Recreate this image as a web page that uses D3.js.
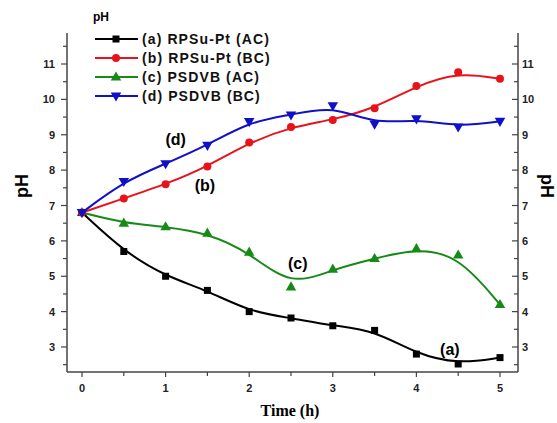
<!DOCTYPE html>
<html>
<head>
<meta charset="utf-8">
<script src="https://cdn.jsdelivr.net/npm/d3@7"></script>
<style>
  body { margin: 0; background: #fff; }
  text { font-family: Arial, "Liberation Sans", sans-serif; }
</style>
</head>
<body>
<svg id="chart" width="557" height="423"></svg>
<script>
// time points (h)
var hours = [0, 0.5, 1, 1.5, 2, 2.5, 3, 3.5, 4, 4.5, 5];

// pH values
var phA = [6.8, 5.7, 5.0, 4.6, 4.0, 3.82, 3.6, 3.47, 2.8, 2.52, 2.7];
var phB = [6.8, 7.2, 7.6, 8.1, 8.78, 9.22, 9.42, 9.75, 10.38, 10.77, 10.58];
var phC = [6.8, 6.5, 6.4, 6.22, 5.68, 4.7, 5.2, 5.5, 5.78, 5.6, 4.2];
var phD = [6.8, 7.68, 8.18, 8.7, 9.37, 9.56, 9.82, 9.3, 9.45, 9.22, 9.38];

var seriesNames = ["(a) RPSu-Pt (AC)", "(b) RPSu-Pt (BC)", "(c) PSDVB (AC)", "(d) PSDVB (BC)"];
var seriesColors = ["#000000", "#e8131a", "#168a16", "#1010c8"];
var seriesMarkers = ["square", "circle", "triangle", "down"];

var xTicks = [0, 1, 2, 3, 4, 5];
var yTicks = [3, 4, 5, 6, 7, 8, 9, 10, 11];

var svg = d3.select("#chart");

var x = d3.scaleLinear().domain([0, 5]).range([82, 500]);
var y = d3.scaleLinear().domain([3, 11]).range([347, 64]);
var yBottom = 372, yTop = 33, xLeft = 67, xRight = 518;

var axisColor = "#444";

// left axis
var left = svg.append("g").attr("transform", "translate(" + xLeft + ",0)");
left.append("line").attr("y1", yTop).attr("y2", yBottom).attr("stroke", axisColor).attr("stroke-width", 1.5);
var minorY = d3.range(2.5, 11.6, 0.5);
left.selectAll(".mt").data(minorY).enter().append("line")
  .attr("x1", 0).attr("x2", function(d){ return d % 1 === 0 ? -6 : -4; })
  .attr("y1", function(d){ return y(d); }).attr("y2", function(d){ return y(d); })
  .attr("stroke", axisColor).attr("stroke-width", 1.2);
left.selectAll(".lb").data(yTicks).enter().append("text")
  .attr("x", -12).attr("y", function(d){ return y(d) + 4; })
  .attr("text-anchor", "end").attr("font-size", 11).attr("font-weight", "bold").attr("fill", "#222")
  .text(function(d){ return d; });

// right axis (ticks point inward)
var right = svg.append("g").attr("transform", "translate(" + xRight + ",0)");
right.append("line").attr("y1", yTop).attr("y2", yBottom).attr("stroke", axisColor).attr("stroke-width", 1.5);
right.selectAll(".mt").data(minorY).enter().append("line")
  .attr("x1", 0).attr("x2", function(d){ return d % 1 === 0 ? -6 : -4; })
  .attr("y1", function(d){ return y(d); }).attr("y2", function(d){ return y(d); })
  .attr("stroke", axisColor).attr("stroke-width", 1.2);
right.selectAll(".lb").data(yTicks).enter().append("text")
  .attr("x", 4).attr("y", function(d){ return y(d) + 4; })
  .attr("font-size", 11).attr("font-weight", "bold").attr("fill", "#222")
  .text(function(d){ return d; });

// bottom axis
var bottom = svg.append("g").attr("transform", "translate(0," + yBottom + ")");
bottom.append("line").attr("x1", xLeft).attr("x2", xRight).attr("stroke", axisColor).attr("stroke-width", 1.5);
bottom.selectAll(".mt").data(hours).enter().append("line")
  .attr("x1", function(d){ return x(d); }).attr("x2", function(d){ return x(d); })
  .attr("y1", 0).attr("y2", function(d){ return d % 1 === 0 ? 5 : 4; })
  .attr("stroke", axisColor).attr("stroke-width", 1.2);
bottom.selectAll(".lb").data(xTicks).enter().append("text")
  .attr("x", function(d){ return x(d); }).attr("y", 20)
  .attr("text-anchor", "middle").attr("font-size", 11).attr("font-weight", "bold").attr("fill", "#222")
  .text(function(d){ return d; });

// axis titles
svg.append("text").attr("transform", "translate(28,186) rotate(-90)")
  .attr("text-anchor", "middle").attr("font-size", 18).attr("font-weight", "bold").text("pH");
svg.append("text").attr("transform", "translate(541,186) rotate(90)")
  .attr("text-anchor", "middle").attr("font-size", 18).attr("font-weight", "bold").text("pH");
svg.append("text").attr("x", 290).attr("y", 416)
  .attr("text-anchor", "middle").attr("font-size", 16).attr("font-weight", "bold")
  .style("font-family", "'Liberation Serif', 'Times New Roman', serif").text("Time (h)");

// markers
function marker(g, type, color, cx, cy) {
  if (type === "square") {
    g.append("rect").attr("x", cx - 3.5).attr("y", cy - 3.5).attr("width", 7).attr("height", 7).attr("fill", color);
  } else if (type === "circle") {
    g.append("circle").attr("cx", cx).attr("cy", cy).attr("r", 4).attr("fill", color);
  } else if (type === "triangle") {
    g.append("path").attr("d", d3.symbol().type(d3.symbolTriangle).size(48)()).attr("transform", "translate(" + cx + "," + (cy + 0.5) + ")").attr("fill", color);
  } else {
    g.append("path").attr("d", d3.symbol().type(d3.symbolTriangle).size(48)()).attr("transform", "translate(" + cx + "," + (cy - 0.5) + ") rotate(180)").attr("fill", color);
  }
}

var allSeries = [phA, phB, phC, phD];
var line = d3.line().curve(d3.curveBasis)
  .x(function(d, i){ return x(hours[i]); })
  .y(function(d){ return y(d); });

// draw in order c, a, b, d so blue ends on top at the origin
[2, 0, 1, 3].forEach(function(k){
  var g = svg.append("g");
  g.append("path").attr("d", line(allSeries[k])).attr("fill", "none")
    .attr("stroke", seriesColors[k]).attr("stroke-width", 2);
  allSeries[k].forEach(function(v, i){
    marker(g, seriesMarkers[k], seriesColors[k], x(hours[i]), y(v));
  });
});

// legend
svg.append("text").attr("x", 93).attr("y", 21).attr("font-size", 12).attr("font-weight", "bold").text("pH");
seriesNames.forEach(function(name, k){
  var ly = 39 + k * 19;
  var g = svg.append("g");
  g.append("line").attr("x1", 95).attr("x2", 138).attr("y1", ly).attr("y2", ly)
    .attr("stroke", seriesColors[k]).attr("stroke-width", 2);
  marker(g, seriesMarkers[k], seriesColors[k], 116, ly);
  g.append("text").attr("x", 142).attr("y", ly + 5).attr("font-size", 14).attr("font-weight", "bold")
    .attr("letter-spacing", 1.1).attr("fill", "#111").text(name);
});

// curve annotations
var notes = [
  {t: "(d)", x: 1.12, y: 8.7},
  {t: "(b)", x: 1.47, y: 7.4},
  {t: "(c)", x: 2.58, y: 5.2},
  {t: "(a)", x: 4.4, y: 2.77}
];
notes.forEach(function(n){
  svg.append("text").attr("x", x(n.x)).attr("y", y(n.y))
    .attr("text-anchor", "middle").attr("font-size", 16).attr("font-weight", "bold").text(n.t);
});
</script>
</body>
</html>
